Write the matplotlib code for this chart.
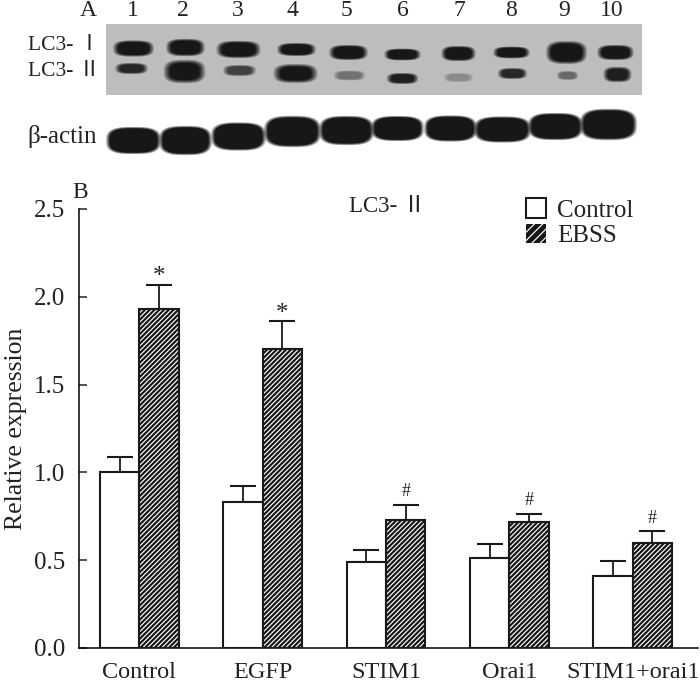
import matplotlib
matplotlib.use('Agg')
import matplotlib.pyplot as plt
import numpy as np
from matplotlib.patches import Patch

plt.rcParams['font.family'] = ['Liberation Serif', 'Noto Sans CJK SC', 'DejaVu Sans']
plt.rcParams['hatch.linewidth'] = 0.85

W, H = 700, 683

# bar chart data
groups = ['Control', 'EGFP', 'STIM1', 'Orai1', 'STIM1+orai1']
control = [1.00, 0.83, 0.49, 0.51, 0.41]
ebss = [1.93, 1.70, 0.73, 0.72, 0.60]
control_err = [0.09, 0.09, 0.07, 0.085, 0.085]
ebss_err = [0.14, 0.16, 0.085, 0.045, 0.065]
marks = ['*', '*', '#', '#', '#']

# blot bands: lane centre x, centre y, width, height (pixels), darkness
lc3_1 = [(133, 48, 37, 15, 1), (185, 47, 35, 16, 1), (238, 49, 40, 16, 1), (296, 49, 35, 12, 1),
         (348, 52, 35, 14, 1), (402, 54, 33, 11, 1), (458, 53, 31, 14, 1), (511, 52, 33, 11, 1),
         (566, 52, 37, 21, 1), (615, 52, 33, 14, 1)]
lc3_2 = [(131, 68, 29, 10, 0.9), (184, 71, 37, 21, 1), (239, 70, 29, 10, 0.75), (295, 73, 39, 17, 1),
         (349, 75, 28, 9, 0.45), (402, 78, 28, 10, 0.95), (458, 77, 26, 8, 0.3), (512, 73, 26, 10, 0.9),
         (567, 75, 19, 8, 0.5), (617, 74, 25, 14, 0.95)]
actin = [(133, 140, 52, 26, 1), (185, 140, 50, 28, 1), (238, 136, 52, 27, 1), (292, 131, 54, 30, 1),
         (346, 130, 52, 28, 1), (397, 128, 50, 24, 1), (450, 128, 50, 25, 1), (502, 129, 54, 25, 1),
         (555, 126, 52, 26, 1), (608, 124, 54, 30, 1)]
lane_labels = ['A', '1', '2', '3', '4', '5', '6', '7', '8', '9', '10']
lane_x = [88, 133, 183, 238, 292, 346, 403, 459, 511, 564, 612]
lane_y = [11, 10, 10, 10, 10, 10, 11, 10, 10, 10, 10]

fig = plt.figure(figsize=(7, 6.83), dpi=100)


def draw_bands(img, bands, edge):
    yy, xx = np.mgrid[0:img.shape[0], 0:img.shape[1]]
    for cx, cy, w, h, dark in bands:
        r = (np.abs(xx - cx) / (w / 2)) ** 3 + (np.abs(yy - cy) / (h / 2)) ** 3
        m = np.clip((1.0 + edge / 2 - r) / edge, 0, 1) * dark
        img[:] = img * (1 - m) + 0.09 * m


# western blot panels as one grey image in pixel coordinates
blot = np.ones((170, W))
panel = np.full_like(blot, 0.74)
draw_bands(panel, lc3_1, 0.9)
draw_bands(panel, lc3_2, 1.1)
blot[24:95, 106:642] = panel[24:95, 106:642]
draw_bands(blot, actin, 0.5)

ax_blot = fig.add_axes([0, 1 - 170 / H, 1, 170 / H])
ax_blot.imshow(blot, cmap='gray', vmin=0, vmax=1, aspect='auto', extent=(0, W, 170, 0))
ax_blot.axis('off')

for lab, x, y in zip(lane_labels, lane_x, lane_y):
    ax_blot.text(x, y, lab, fontsize=17, ha='center', va='center', color='#222222')
ax_blot.text(100, 45, 'LC3- Ⅰ', fontsize=15.5, ha='right', va='center', color='#222222')
ax_blot.text(100, 71, 'LC3- Ⅱ', fontsize=15.5, ha='right', va='center', color='#222222')
ax_blot.text(97, 137, 'β-actin', fontsize=18, ha='right', va='center', color='#222222')

# bar chart
ax = fig.add_axes([79 / W, 1 - 648 / H, 619 / W, 439 / H])
x = np.arange(len(groups))
bw = 0.32

ax.errorbar(x - bw / 2, control, yerr=[np.zeros(5), control_err], fmt='none', ecolor='#1a1a1a',
            elinewidth=1.3, capsize=9.5, capthick=1.5)
ax.errorbar(x + bw / 2, ebss, yerr=[np.zeros(5), ebss_err], fmt='none', ecolor='#1a1a1a',
            elinewidth=1.3, capsize=9.5, capthick=1.5)
ax.bar(x - bw / 2, control, bw, color='white', edgecolor='#1a1a1a', linewidth=1.5, zorder=3)
ax.bar(x + bw / 2, ebss, bw, color='#151515', edgecolor='white', hatch='///////', linewidth=0, zorder=3)
ax.bar(x + bw / 2, ebss, bw, color='none', edgecolor='#1a1a1a', linewidth=1.5, zorder=4)

for i, m in enumerate(marks):
    top = ebss[i] + ebss_err[i]
    if m == '*':
        ax.text(x[i] + bw / 2, top - 0.02, m, fontsize=18, ha='center', va='bottom', color='#222222')
    else:
        ax.text(x[i] + bw / 2, top + 0.025, m, fontsize=13, ha='center', va='bottom', color='#222222')

ax.set_xlim(-0.49, 4.53)
ax.set_ylim(0, 2.5)
ax.set_yticks([0, 0.5, 1.0, 1.5, 2.0, 2.5])
ax.set_yticklabels(['0.0', '0.5', '1.0', '1.5', '2.0', '2.5'])
ax.set_xticks(x)
ax.set_xticklabels(groups)
ax.tick_params(axis='y', direction='in', length=6, width=1.1, labelsize=18, pad=10, colors='#222222')
ax.tick_params(axis='x', length=0, labelsize=17.5, pad=10, colors='#222222')
ax.spines['top'].set_visible(False)
ax.spines['right'].set_visible(False)
ax.spines['left'].set_linewidth(1.1)
ax.spines['bottom'].set_linewidth(1.1)
ax.set_ylabel('Relative expression', fontsize=18.5, labelpad=5, color='#222222')

fig.text(387 / W, 1 - 207 / H, 'LC3- Ⅱ', fontsize=16.5, ha='center', va='center', color='#222222')
fig.text(80 / W, 1 - 192 / H, 'B', fontsize=17, ha='center', va='center', color='#222222')

handles = [Patch(facecolor='white', edgecolor='#1a1a1a', linewidth=1.5, label='Control'),
           Patch(facecolor='#151515', edgecolor='white', hatch='////', linewidth=0, label='EBSS')]
ax.legend(handles=handles, loc='upper left', bbox_to_anchor=(0.722, 1.024), frameon=False, fontsize=18,
          handlelength=0.8, handleheight=0.8, handletextpad=0.45, labelspacing=0.1, borderpad=0,
          borderaxespad=0, labelcolor='#222222')

fig.savefig('out.png', dpi=100)
